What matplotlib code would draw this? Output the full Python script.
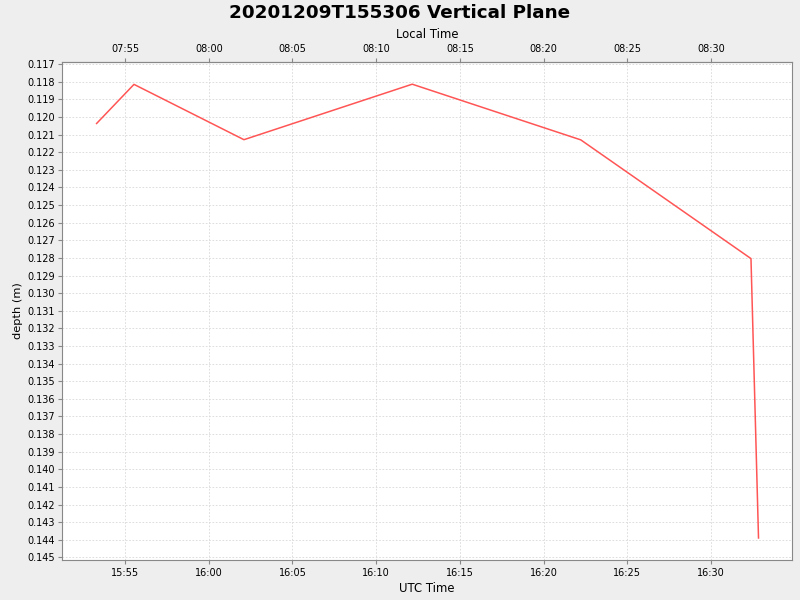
import matplotlib
matplotlib.use("Agg")
import matplotlib.pyplot as plt
import matplotlib.dates as mdates
import numpy as np
import pandas as pd

# values
utc_times = ["2020-12-09 15:53:18", "2020-12-09 15:55:32", "2020-12-09 16:02:06",
             "2020-12-09 16:12:09", "2020-12-09 16:22:13", "2020-12-09 16:32:23",
             "2020-12-09 16:32:50"]
depth = [0.12037, 0.11815, 0.12129, 0.11814, 0.12130, 0.12804, 0.14390]
utc_offset_hours = -8
title = "20201209T155306 Vertical Plane"

t = mdates.date2num(pd.to_datetime(utc_times))

fig = plt.figure(figsize=(8, 6), dpi=100, facecolor="#eeeeee")
ax = fig.add_axes([62 / 800, 40 / 600, 730 / 800, 498 / 600])
ax.set_facecolor("white")

ax.plot(t, depth, color="#ff5555", lw=1.1)

ax.set_xlim(mdates.date2num(pd.Timestamp("2020-12-09 15:51:14")),
            mdates.date2num(pd.Timestamp("2020-12-09 16:34:50")))
ax.set_ylim(0.14515, 0.11688)
ax.set_yticks(np.arange(117, 146) / 1000)
ax.yaxis.set_major_formatter(plt.FormatStrFormatter("%.3f"))

ax.xaxis.set_major_locator(mdates.MinuteLocator(byminute=range(0, 60, 5)))
ax.xaxis.set_major_formatter(mdates.DateFormatter("%H:%M"))

off = utc_offset_hours / 24
sec = ax.secondary_xaxis("top", functions=(lambda x: x + off, lambda x: x - off))
sec.xaxis.set_major_locator(mdates.MinuteLocator(byminute=range(0, 60, 5)))
sec.xaxis.set_major_formatter(mdates.DateFormatter("%H:%M"))
sec.set_xlabel("Local Time", fontsize=8.4, labelpad=4)
sec.tick_params(labelsize=7, length=3, color="#888888", pad=3)
sec.spines["top"].set_color("#888888")

ax.grid(True, color="#d8d8d8", linestyle=(0, (2, 2)), lw=0.6)
for s in ax.spines.values():
    s.set_color("#888888")
ax.tick_params(labelsize=7, length=3, color="#888888", pad=3)
ax.tick_params(axis="y", pad=2)
ax.set_xlabel("UTC Time", fontsize=8.4, labelpad=3)
ax.set_ylabel("depth (m)", fontsize=8.2, labelpad=3)

fig.suptitle(title, fontsize=13.2, fontweight="bold", y=0.993)

fig.savefig("out.png", dpi=100, facecolor=fig.get_facecolor())
